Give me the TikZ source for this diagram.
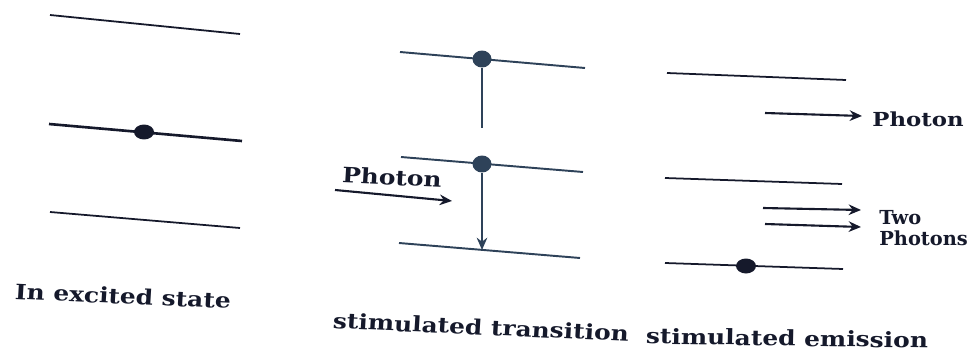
\documentclass[tikz,border=0pt]{standalone}
\usepackage{fontspec}
\newfontfamily\capfont{DejaVu Serif}
\usetikzlibrary{shapes.geometric, arrows.meta}
\definecolor{inkdark}{HTML}{15192B}
\definecolor{slateink}{HTML}{2E4259}

\begin{document}
\begin{tikzpicture}[>={Stealth[length=7pt, width=6pt]}, x=0.02cm, y=-0.02cm,
    level/.style={line width=1pt, inkdark},
    heavylevel/.style={line width=1.5pt, inkdark},
    dot/.style={ellipse, fill=inkdark, inner sep=0pt, minimum width=0.4cm, minimum height=0.3cm},
    ray/.style={->, line width=1.2pt, inkdark},
    caption/.style={font=\capfont\bfseries\fontsize{12}{14}\selectfont, text=inkdark, xscale=1.18, inner sep=0pt}]
  \useasboundingbox (0,0) rectangle (974,355);
  % ---------------------------------------------------------------- (a) atom in the excited state
  \draw[level] (50,15) -- (240,34);
  \draw[heavylevel] (49,124) -- (242,141);
  \draw[level] (50,212) -- (240,228);
  \node[dot] (atomA) at (144,132) {};
  \node[caption, rotate=-3] (capA) at (123,296) {In excited state};
  % ---------------------------------------------------------------- (b) the photon comes in, the electron drops
  \begin{scope}[every path/.style={slateink, line width=1.1pt}]
    \draw (400,52) -- (585,68);
    \draw (401,157) -- (583,172);
    \draw (399,243) -- (580,258);
  \end{scope}
  \node[dot, fill=slateink, minimum width=0.38cm, minimum height=0.34cm] (atomB1) at (482,59) {};
  \node[dot, fill=slateink, minimum width=0.38cm, minimum height=0.34cm] (atomB2) at (482,164) {};
  \coordinate (stemB) at (482,128);
  \coordinate (landB) at (482,250);
  \draw[slateink, line width=1.3pt] (atomB1) -- (stemB);
  \draw[->, slateink, line width=1.3pt] (atomB2) -- (landB);
  \coordinate (inB) at (335,190);
  \coordinate (tipB) at (452,201);
  \draw[ray] (inB) -- (tipB);
  \node[caption, rotate=-3] (photonB) at (392,177) {Photon};
  \node[caption, rotate=-3] (capB) at (481,327) {stimulated transition};
  % ---------------------------------------------------------------- (c) two photons go out
  \draw[level] (667,73) -- (846,80);
  \draw[level] (665,178) -- (842,184);
  \draw[level] (665,263) -- (843,269);
  \node[dot] (atomC) at (746,266) {};
  \foreach \name/\xa/\ya/\xb/\yb in {one/765/113/862/116, two/763/208/861/210, three/765/224/861/227} {
    \coordinate (out\name) at (\xa,\ya);
    \coordinate (tip\name) at (\xb,\yb);
    \draw[ray] (out\name) -- (tip\name);
  }
  \node[caption, anchor=west, font=\capfont\bfseries\fontsize{11}{13}\selectfont] (photonC) at (872,119) {Photon};
  \node[caption, anchor=west, align=left, xscale=0.85, font=\capfont\bfseries\fontsize{11}{12}\selectfont] (pairC) at (879,228) {Two\\Photons};
  \node[caption, rotate=-1] (capC) at (787,338) {stimulated emission};
\end{tikzpicture}
\end{document}
